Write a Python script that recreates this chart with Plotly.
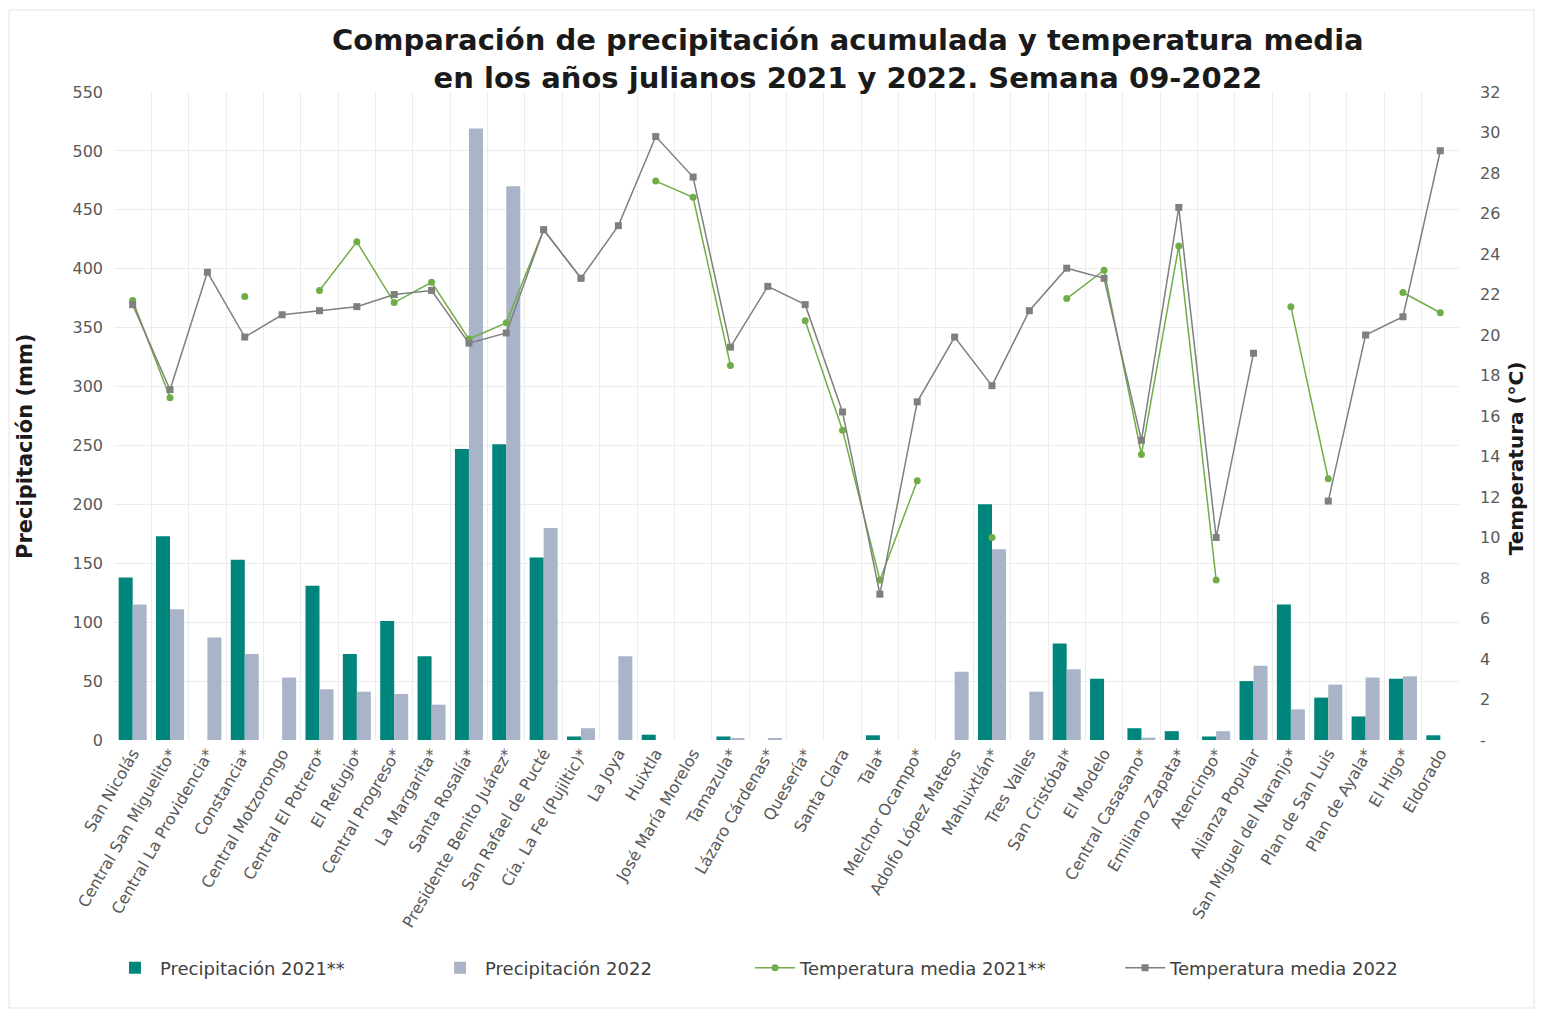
import plotly.graph_objects as go

categories = [
    "San Nicolás", "Central San Miguelito*", "Central La Providencia*", "Constancia*",
    "Central Motzorongo", "Central El Potrero*", "El Refugio*", "Central Progreso*",
    "La Margarita*", "Santa Rosalía*", "Presidente Benito Juárez*", "San Rafael de Pucté",
    "Cía. La Fe (Pujiltic)*", "La Joya", "Huixtla", "José María Morelos", "Tamazula*",
    "Lázaro Cárdenas*", "Quesería*", "Santa Clara", "Tala*", "Melchor Ocampo*",
    "Adolfo López Mateos", "Mahuixtlán*", "Tres Valles", "San Cristóbal*", "El Modelo",
    "Central Casasano*", "Emiliano Zapata*", "Atencingo*", "Alianza Popular",
    "San Miguel del Naranjo*", "Plan de San Luis", "Plan de Ayala*", "El Higo*", "Eldorado",
]

precip_2021 = [138, 173, 0, 153, 0, 131, 73, 101, 71, 247, 251, 155,
               3, 0, 4.5, 0, 3, 0, 0, 0, 4, 0, 0, 200,
               0, 82, 52, 10, 7.5, 3, 50, 115, 36, 20, 52, 4]

precip_2022 = [115, 111, 87, 73, 53, 43, 41, 39, 30, 519, 470, 180,
               10, 71, 0, 0, 1, 1, 0, 0, 0, 0, 58, 162,
               41, 60, 0, 2, 0, 7.5, 63, 26, 47, 53, 54, 0]

temp_2021 = [21.7, 16.9, None, 21.9, None, 22.2, 24.6, 21.6, 22.6, 19.8, 20.6, 25.2,
             22.8, None, 27.6, 26.8, 18.5, None, 20.7, 15.3, 7.9, 12.8, None, 10.0,
             None, 21.8, 23.2, 14.1, 24.4, 7.9, None, 21.4, 12.9, None, 22.1, 21.1]

temp_2022 = [21.5, 17.3, 23.1, 19.9, 21.0, 21.2, 21.4, 22.0, 22.2, 19.6, 20.1, 25.2,
             22.8, 25.4, 29.8, 27.8, 19.4, 22.4, 21.5, 16.2, 7.2, 16.7, 19.9, 17.5,
             21.2, 23.3, 22.8, 14.8, 26.3, 10.0, 19.1, None, 11.8, 20.0, 20.9, 29.1]

left_ticks = list(range(0, 551, 50))
right_ticks = list(range(0, 33, 2))
right_ticktext = ["-"] + [str(v) for v in right_ticks[1:]]

FONT = "DejaVu Sans"
TICK_COLOR = "#595959"
TITLE_COLOR = "#1a1a1a"

fig = go.Figure()
fig.add_trace(go.Bar(x=categories, y=precip_2021, name="Precipitación 2021**", legend="legend",
                     marker=dict(color="#00857C", line=dict(width=0))))
fig.add_trace(go.Bar(x=categories, y=precip_2022, name="Precipitación 2022", legend="legend2",
                     marker=dict(color="#A9B4C8", line=dict(width=0))))
fig.add_trace(go.Scatter(x=categories, y=temp_2021, name="Temperatura media 2021**",
                         legend="legend3",
                         mode="lines+markers", yaxis="y2", connectgaps=False,
                         line=dict(color="#70AD47", width=1.5),
                         marker=dict(symbol="circle", size=7, color="#70AD47")))
fig.add_trace(go.Scatter(x=categories, y=temp_2022, name="Temperatura media 2022",
                         legend="legend4",
                         mode="lines+markers", yaxis="y2", connectgaps=False,
                         line=dict(color="#7F7F7F", width=1.5),
                         marker=dict(symbol="square", size=7, color="#7F7F7F")))

legend_font = dict(size=18, color="#404040", family=FONT)
leg_y = -0.352


def leg(x):
    return dict(orientation="h", x=x, xanchor="left", y=leg_y, yanchor="middle",
                font=legend_font, bgcolor="rgba(0,0,0,0)", itemwidth=40, visible=True)


fig.update_layout(
    width=1527, height=1002,
    showlegend=True,
    margin=dict(l=106, r=76, t=84, b=270, autoexpand=False),
    paper_bgcolor="white", plot_bgcolor="white",
    font=dict(family=FONT, color=TICK_COLOR, size=14),
    title=dict(
        text="Comparación de precipitación acumulada y temperatura media<br>en los años julianos 2021 y 2022. Semana 09-2022",
        x=0.55, xanchor="center", xref="container",
        y=0.9576, yanchor="middle", yref="container",
        font=dict(family=FONT, size=29, color=TITLE_COLOR, weight="bold"),
    ),
    barmode="group", bargap=0.25, bargroupgap=0,
    xaxis=dict(
        type="category", tickangle=-60, tickson="boundaries",
        showgrid=True, gridcolor="#ececec", gridwidth=1,
        ticks="", showline=False, zeroline=False,
        tickfont=dict(size=16, color=TICK_COLOR, family=FONT),
        range=[-0.5, len(categories) - 0.5],
    ),
    yaxis=dict(
        range=[0, 550], tickvals=left_ticks, showgrid=True, gridcolor="#ececec",
        zeroline=False, showline=False, ticks="", ticklabelstandoff=10,
        tickfont=dict(size=16, color=TICK_COLOR, family=FONT),
    ),
    yaxis2=dict(
        range=[0, 32], overlaying="y", side="right",
        tickvals=right_ticks, ticktext=right_ticktext,
        showgrid=False, zeroline=False, showline=False, ticks="", ticklabelstandoff=20,
        tickfont=dict(size=16, color=TICK_COLOR, family=FONT),
    ),
    legend=leg(-0.003),
    legend2=leg(0.2387),
    legend3=leg(0.4729),
    legend4=leg(0.7480),
    annotations=[
        dict(text="Precipitación (mm)", textangle=-90, xref="paper", yref="paper",
             x=-0.0662, y=0.4537, xanchor="center", yanchor="middle", showarrow=False,
             font=dict(size=21, color=TITLE_COLOR, family=FONT, weight="bold")),
        dict(text="Temperatura (°C)", textangle=-90, xref="paper", yref="paper",
             x=1.0425, y=0.435, xanchor="center", yanchor="middle", showarrow=False,
             font=dict(size=20, color=TITLE_COLOR, family=FONT, weight="bold")),
    ],
    shapes=[dict(type="rect", xref="paper", yref="paper",
                 x0=-0.078, x1=1.0558, y0=-0.4136, y1=1.1265,
                 line=dict(color="#e3e3e3", width=1), fillcolor="rgba(0,0,0,0)",
                 layer="below")],
)

fig.write_html("out.html")
